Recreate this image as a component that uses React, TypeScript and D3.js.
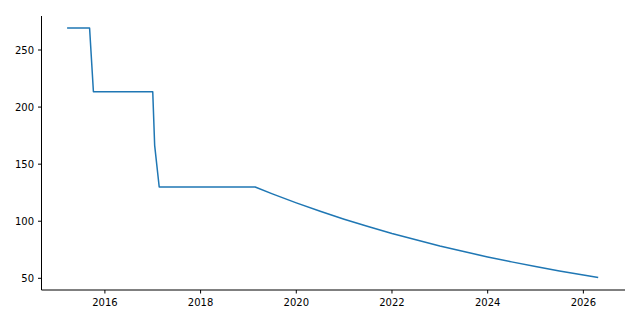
import React from "react";
import * as d3 from "d3";

// Decimal years and values
const years = [
  2015.21, 2015.68, 2015.76, 2017.0, 2017.04, 2017.135, 2019.14,
  2019.5, 2020.0, 2020.5, 2021.0, 2021.5, 2022.0, 2022.5, 2023.0,
  2023.5, 2024.0, 2024.5, 2025.0, 2025.5, 2026.0, 2026.31,
];
const values = [
  269.3, 269.3, 213.5, 213.5, 166.5, 130.0, 130.0,
  124.0, 116.1, 108.7, 101.8, 95.4, 89.3, 83.7, 78.3,
  73.4, 68.7, 64.4, 60.3, 56.4, 52.8, 50.7,
];
const xTicks = [2016, 2018, 2020, 2022, 2024, 2026];
const yTicks = [50, 100, 150, 200, 250];

const W = 640;
const H = 320;
const left = 41.5;
const right = 625;
const top = 16;
const bottom = 290;

export default function App() {
  const x = d3.scaleLinear().domain([2014.675, 2026.87]).range([left, right]);
  const y = d3.scaleLinear().domain([39.75, 279.8]).range([bottom, top]);
  const data = years.map((yr, i) => [yr, values[i]] as [number, number]);
  const line = d3
    .line<[number, number]>()
    .x((d) => x(d[0]))
    .y((d) => y(d[1]));
  const font = "DejaVu Sans, sans-serif";
  return (
    <svg
      width={W}
      height={H}
      style={{ position: "absolute", left: 0, top: 0, background: "#fff" }}
    >
      <path d={line(data) || ""} fill="none" stroke="#1f77b4" strokeWidth={1.5} strokeLinejoin="round" />
      <line x1={left} x2={left} y1={top} y2={bottom} stroke="#000" strokeWidth={1} />
      <line x1={left} x2={right} y1={bottom} y2={bottom} stroke="#000" strokeWidth={1} />
      {xTicks.map((t) => (
        <g key={t}>
          <line x1={x(t)} x2={x(t)} y1={bottom} y2={bottom + 3.5} stroke="#000" strokeWidth={1} />
          <text x={x(t)} y={306} textAnchor="middle" fontFamily={font} fontSize={10} fill="#000">
            {t}
          </text>
        </g>
      ))}
      {yTicks.map((t) => (
        <g key={t}>
          <line x1={left - 3.5} x2={left} y1={y(t)} y2={y(t)} stroke="#000" strokeWidth={1} />
          <text x={34} y={y(t) + 3.6} textAnchor="end" fontFamily={font} fontSize={10} fill="#000">
            {t}
          </text>
        </g>
      ))}
    </svg>
  );
}
